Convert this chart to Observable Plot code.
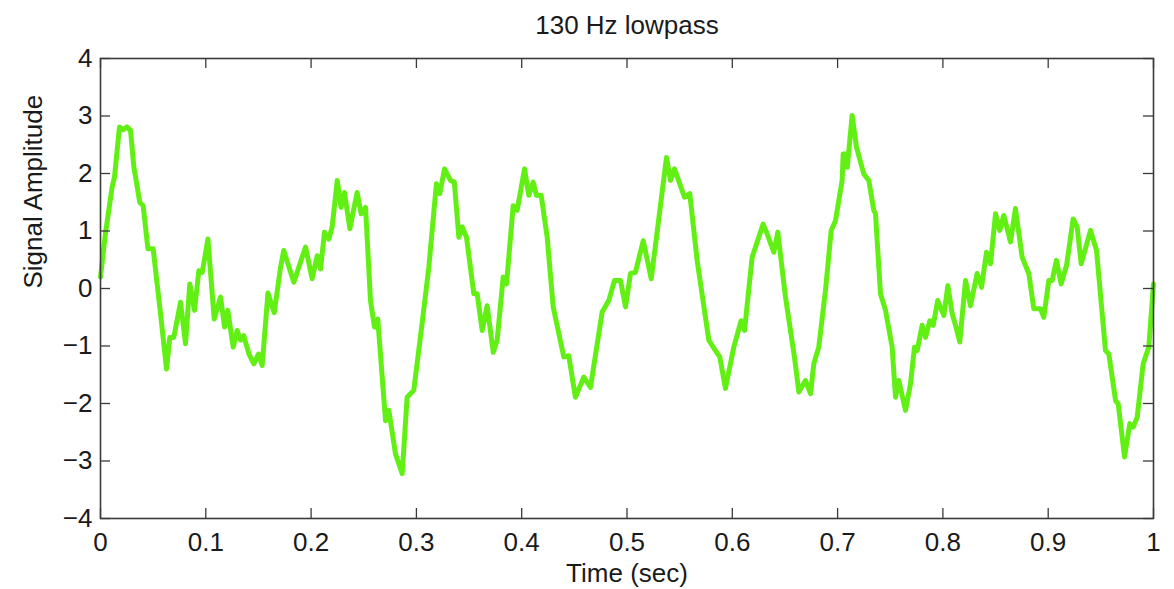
<!DOCTYPE html>
<html>
<head>
<meta charset="utf-8">
<script src="https://cdn.jsdelivr.net/npm/d3@7"></script>
<script src="https://cdn.jsdelivr.net/npm/@observablehq/plot@0.6"></script>
<style>
  html, body { margin: 0; padding: 0; background: #fff; }
  #chart { width: 1174px; height: 589px; }
</style>
</head>
<body>
<div id="chart"></div>
<script>
const titleText = "130 Hz lowpass";
const xLabel = "Time (sec)";
const yLabel = "Signal Amplitude";
const xTicks = [0, 0.1, 0.2, 0.3, 0.4, 0.5, 0.6, 0.7, 0.8, 0.9, 1];
const xTickLabels = ["0", "0.1", "0.2", "0.3", "0.4", "0.5", "0.6", "0.7", "0.8", "0.9", "1"];
const yTicks = [-4, -3, -2, -1, 0, 1, 2, 3, 4];
const yTickLabels = ["\u22124", "\u22123", "\u22122", "\u22121", "0", "1", "2", "3", "4"];

const time = [
  0.000, 0.0047, 0.011, 0.0133, 0.018, 0.0215, 0.025, 0.0285, 0.0317, 0.0373,
  0.0405, 0.045, 0.050, 0.057, 0.0627, 0.0658, 0.0696, 0.076, 0.0807, 0.0848,
  0.0893, 0.0934, 0.0966, 0.102, 0.108, 0.114, 0.1178, 0.1209, 0.126, 0.1298,
  0.133, 0.136, 0.141, 0.1456, 0.150, 0.1535, 0.159, 0.165, 0.171, 0.174,
  0.1836, 0.1947, 0.201, 0.2058, 0.209, 0.2127, 0.2168, 0.22, 0.2248, 0.2285,
  0.2317, 0.2368, 0.2437, 0.2475, 0.2517, 0.2564, 0.2602, 0.2633, 0.2707, 0.2738,
  0.2802, 0.2865, 0.2912, 0.2975, 0.3054, 0.3118, 0.319, 0.3222, 0.3267, 0.3324,
  0.336, 0.3403, 0.3435, 0.3476, 0.3545, 0.3577, 0.3625, 0.3672, 0.373, 0.3767,
  0.3824, 0.3856, 0.3919, 0.3957, 0.4027, 0.4067, 0.4109, 0.414, 0.4185, 0.4242,
  0.4299, 0.44, 0.4447, 0.451, 0.459, 0.4653, 0.4764, 0.4827, 0.4881, 0.4938,
  0.4986, 0.5033, 0.508, 0.5154, 0.523, 0.528, 0.5375, 0.5413, 0.5451, 0.5501,
  0.5546, 0.5596, 0.5666, 0.5777, 0.584, 0.5881, 0.5935, 0.6014, 0.6084, 0.6116,
  0.6188, 0.6236, 0.6293, 0.6331, 0.6394, 0.6432, 0.6505, 0.659, 0.6632, 0.6695,
  0.6743, 0.6774, 0.6821, 0.6885, 0.6939, 0.698, 0.7043, 0.7053, 0.7084, 0.7092,
  0.7138, 0.7179, 0.7249, 0.7296, 0.7344, 0.736, 0.7407, 0.7455, 0.7518, 0.755,
  0.7581, 0.7645, 0.7692, 0.773, 0.7756, 0.7803, 0.7835, 0.7876, 0.7908, 0.7951,
  0.8009, 0.8047, 0.8088, 0.812, 0.816, 0.8215, 0.8262, 0.8325, 0.8367, 0.8414,
  0.8452, 0.85, 0.854, 0.8578, 0.8642, 0.8689, 0.8753, 0.8816, 0.8863, 0.8927,
  0.8958, 0.9006, 0.9038, 0.9078, 0.9123, 0.9174, 0.9237, 0.9275, 0.9313, 0.9402,
  0.9459, 0.9544, 0.9576, 0.964, 0.9665, 0.9725, 0.9775, 0.9807, 0.9845, 0.9902,
  0.9955, 1.0
];
const amplitude = [
  0.20, 0.96, 1.76, 1.94, 2.81, 2.76, 2.81, 2.75, 2.11, 1.50,
  1.44, 0.69, 0.69, -0.44, -1.40, -0.85, -0.85, -0.24, -0.96, 0.08,
  -0.38, 0.31, 0.28, 0.86, -0.53, -0.15, -0.67, -0.38, -1.02, -0.73,
  -0.90, -0.82, -1.14, -1.31, -1.14, -1.34, -0.08, -0.42, 0.37, 0.66,
  0.11, 0.72, 0.17, 0.57, 0.34, 0.98, 0.86, 1.07, 1.88, 1.41,
  1.67, 1.04, 1.67, 1.30, 1.41, -0.21, -0.67, -0.53, -2.30, -2.12,
  -2.88, -3.22, -1.89, -1.77, -0.61, 0.37, 1.82, 1.65, 2.08, 1.88,
  1.85, 0.89, 1.07, 0.89, -0.09, -0.09, -0.73, -0.30, -1.11, -0.90,
  0.20, 0.08, 1.44, 1.36, 2.08, 1.62, 1.85, 1.62, 1.62, 0.89,
  -0.32, -1.19, -1.17, -1.89, -1.54, -1.72, -0.41, -0.21, 0.14, 0.14,
  -0.32, 0.26, 0.28, 0.83, 0.17, 0.89, 2.28, 1.88, 2.08, 1.82,
  1.59, 1.65, 0.49, -0.90, -1.08, -1.19, -1.74, -1.02, -0.56, -0.73,
  0.54, 0.81, 1.12, 0.95, 0.63, 0.98, -0.15, -1.19, -1.80, -1.60,
  -1.83, -1.31, -1.02, -0.03, 1.01, 1.18, 1.88, 2.34, 2.34, 2.11,
  3.01, 2.46, 1.99, 1.88, 1.36, 1.30, -0.09, -0.38, -1.02, -1.89,
  -1.60, -2.12, -1.66, -1.02, -1.08, -0.64, -0.85, -0.56, -0.64, -0.21,
  -0.47, 0.05, -0.44, -0.64, -0.93, 0.14, -0.30, 0.26, 0.02, 0.63,
  0.43, 1.30, 1.01, 1.27, 0.81, 1.39, 0.54, 0.26, -0.35, -0.35,
  -0.50, 0.14, 0.14, 0.49, 0.08, 0.40, 1.21, 1.07, 0.43, 1.01,
  0.66, -1.08, -1.14, -1.95, -2.01, -2.93, -2.35, -2.41, -2.24, -1.31,
  -1.02, 0.08
];

const signal = time.map((t, i) => ({t, v: amplitude[i]}));

const font = "'Liberation Sans', Arial, Helvetica, sans-serif";
const ink = "#1a1a1a";
const axisInk = "#3a3a3a";
const W = 1174, H = 589;
const mTop = 58, mBottom = 71, mLeft = 100, mRight = 21;
const frameW = W - mLeft - mRight, frameH = H - mTop - mBottom;
const tickLen = 10;

const chart = Plot.plot({
  width: W,
  height: H,
  marginTop: mTop,
  marginBottom: mBottom,
  marginLeft: mLeft,
  marginRight: mRight,
  style: {fontFamily: font, color: ink, background: "#fff"},
  x: {domain: [0, 1]},
  y: {domain: [-4, 4]},
  marks: [
    Plot.line(signal, {x: "t", y: "v", stroke: "#62f014", strokeWidth: 5, strokeLinejoin: "round", strokeLinecap: "round"}),
    // inward ticks, MATLAB style, on all four sides
    Plot.tickX(xTicks, {x: d => d, insetTop: frameH - tickLen, stroke: axisInk, strokeWidth: 1.3}),
    Plot.tickX(xTicks, {x: d => d, insetBottom: frameH - tickLen, stroke: axisInk, strokeWidth: 1.3}),
    Plot.tickY(yTicks, {y: d => d, insetRight: frameW - tickLen, stroke: axisInk, strokeWidth: 1.3}),
    Plot.tickY(yTicks, {y: d => d, insetLeft: frameW - tickLen, stroke: axisInk, strokeWidth: 1.3}),
    Plot.frame({stroke: axisInk, strokeWidth: 1.6}),
    Plot.axisX(xTicks, {anchor: "bottom", tickSize: 0, tickPadding: 14, fontSize: 26, fill: ink,
      tickFormat: (d, i) => xTickLabels[i], label: null}),
    Plot.axisY(yTicks, {anchor: "left", tickSize: 0, tickPadding: 8, fontSize: 26, fill: ink,
      tickFormat: (d, i) => yTickLabels[i], label: null}),
    Plot.text([titleText], {frameAnchor: "top", dy: -33, text: d => d, fontSize: 26, fill: ink, lineAnchor: "middle"}),
    Plot.text([xLabel], {frameAnchor: "bottom", dy: 55, text: d => d, fontSize: 26, fill: ink, lineAnchor: "middle"}),
    Plot.text([yLabel], {frameAnchor: "left", dx: -67, rotate: -90, text: d => d, fontSize: 26, fill: ink, lineAnchor: "middle"})
  ]
});
document.getElementById("chart").appendChild(chart);
</script>
</body>
</html>
